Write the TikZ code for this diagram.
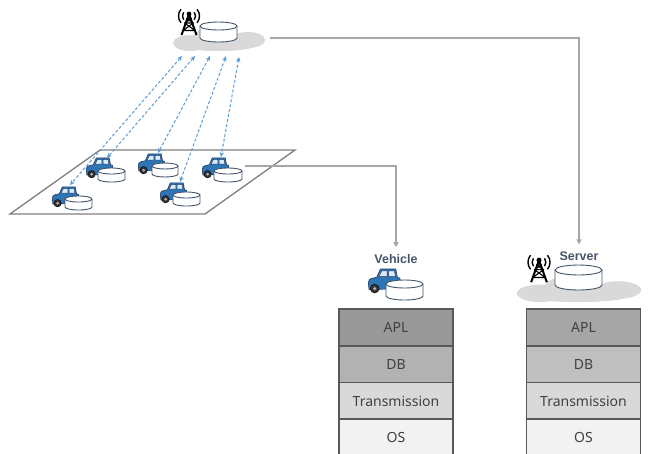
\documentclass[tikz,border=0pt]{standalone}
\usepackage{fontspec}
\setmainfont{Noto Sans}
\newfontfamily\tagfont{Liberation Sans}
\usetikzlibrary{arrows.meta}

\definecolor{carblue}{HTML}{2E75B6}
\definecolor{carline}{HTML}{1F3864}
\definecolor{winblue}{HTML}{DDEBF7}
\definecolor{dbline}{HTML}{44546A}
\definecolor{cloudgray}{HTML}{D9D9D9}
\definecolor{linkgray}{HTML}{A6A6A6}
\definecolor{planegray}{HTML}{7F7F7F}
\definecolor{dashblue}{HTML}{5B9BD5}
\definecolor{labelslate}{HTML}{44546A}
\definecolor{txtgray}{HTML}{404040}
\definecolor{framegray}{HTML}{595959}

\tikzset{
  % small car seen from the side, front to the left (y grows downwards)
  pics/car/.style={code={
    \draw[carline, fill=carblue, line width=0.6pt, line join=round]
      (1,21) -- (0.3,14) .. controls (0.5,11) and (2,10.5) .. (4,10) -- (8.5,9)
      -- (12,1) -- (27,1) -- (28.5,9) -- (31,10) -- (31.5,20) -- cycle;
    \draw[carline, fill=winblue, line width=0.4pt]
      (10.5,8.3) -- (13.4,2.8) -- (18.5,2.8) -- (18.5,8.3) -- cycle;
    \draw[carline, fill=winblue, line width=0.4pt]
      (20,2.8) -- (25.6,2.8) -- (26.6,8.3) -- (20,8.3) -- cycle;
    \draw[black, fill=black!80, line width=0.4pt] (6.5,20) circle (4.3);
    \fill[gray!60] (6.5,20) circle (1.7);
  }},
  % database cylinder: x radius, y radius, body height; origin = centre of top face
  pics/dbcyl/.style n args={3}{code={
    \fill[white] (0,#3) ellipse [x radius=#1, y radius=#2];
    \fill[white] (-#1,0) rectangle (#1,#3);
    \draw[dbline, line width=0.9pt] (-#1,0) -- (-#1,#3)
      arc[start angle=180, end angle=0, x radius=#1, y radius=#2] -- (#1,0);
    \draw[dbline, fill=white, line width=0.9pt] (0,0) ellipse [x radius=#1, y radius=#2];
  }},
  % flat cloud, origin at its centre
  pics/cloud/.style={code={
    \fill[cloudgray] (-29,3) ellipse [x radius=17, y radius=8];
    \fill[cloudgray] (-4,-2) ellipse [x radius=22, y radius=11];
    \fill[cloudgray] (29,0) ellipse [x radius=17, y radius=8];
    \fill[cloudgray] (-1,6) ellipse [x radius=36, y radius=5];
  }},
  % radio mast with waves, origin at the tip
  pics/mast/.style={code={
    \draw[black, line width=2pt, line join=round] (-7.5,24) -- (0,3) -- (7.5,24);
    \draw[black, line width=1.1pt] (-6,19.5) -- (4.5,12) (6,19.5) -- (-4.5,12)
      (-4.5,12) -- (4.5,12) (-2.8,7.5) -- (2.8,7.5) (-2.8,7.5) -- (4.5,12)
      (2.8,7.5) -- (-4.5,12) (-6,19.5) -- (6,19.5);
    \fill[black] (0,3) circle (2.4);
    \draw[black, line width=1.4pt] (0,5) ++(145:6.5) arc[start angle=145, end angle=215, radius=6.5];
    \draw[black, line width=1.4pt] (0,5) ++(140:10.5) arc[start angle=140, end angle=220, radius=10.5];
    \draw[black, line width=1.4pt] (0,5) ++(35:6.5) arc[start angle=35, end angle=-35, radius=6.5];
    \draw[black, line width=1.4pt] (0,5) ++(40:10.5) arc[start angle=40, end angle=-40, radius=10.5];
  }},
  layer/.style={draw=framegray, line width=1.3pt, minimum width=114pt,
    minimum height=37pt, inner sep=0pt, text=txtgray,
    font=\fontsize{14}{16}\selectfont},
  tag/.style={text=labelslate, inner sep=0pt,
    font=\tagfont\bfseries\fontsize{12.5}{14}\selectfont},
  link/.style={linkgray, line width=1.3pt,
    -{Triangle[length=5pt, width=5pt]}},
  radio/.style={dashblue, line width=1pt, dash pattern=on 3pt off 2pt,
    {Stealth[length=5pt, width=4.5pt]}-{Stealth[length=5pt, width=4.5pt]}},
}

\begin{document}
\begin{tikzpicture}[x=1pt, y=-1pt]
  \useasboundingbox (0,0) rectangle (658,453);
  \clip (0,0) rectangle (658,453);

  % ---- base station in the cloud ----
  \pic at (219,40) {cloud};
  \pic at (189,11) {mast};
  \pic at (218.5,26) {dbcyl={18.5}{4}{12}};
  \coordinate (cloudA-e) at (270,38);

  % ---- road plane with vehicles ----
  \draw[planegray, line width=1.3pt, line join=miter]
    (10,214) -- (205,214) -- (295,150) -- (100,150) -- cycle;

  \pic[scale=0.86] at (86,157) {car};
  \pic at (111.5,171) {dbcyl={13.5}{3}{8}};
  \pic[scale=0.86] at (138,153) {car};
  \pic at (165,166) {dbcyl={13}{3}{8}};
  \pic[scale=0.86] at (202,157) {car};
  \pic at (228,171) {dbcyl={14}{3}{8}};
  \pic[scale=0.86] at (52,186) {car};
  \pic at (78.5,199) {dbcyl={13.5}{3}{8}};
  \pic[scale=0.86] at (160,182) {car};
  \pic at (186.5,195) {dbcyl={13.5}{3}{8}};

  % radio links between vehicles and base station
  \coordinate (up1) at (182,56);
  \coordinate (up2) at (195,56);
  \coordinate (up3) at (210,56);
  \coordinate (up4) at (226,56);
  \coordinate (up5) at (239,57);
  \coordinate (car1-t) at (70,185);
  \coordinate (car2-t) at (107,158);
  \coordinate (car3-t) at (158,153);
  \coordinate (car5-t) at (180,182);
  \coordinate (car4-t) at (221,157);
  \draw[radio] (up1) -- (car1-t);
  \draw[radio] (up2) -- (car2-t);
  \draw[radio] (up3) -- (car3-t);
  \draw[radio] (up4) -- (car5-t);
  \draw[radio] (up5) -- (car4-t);
  \coordinate (car4-e) at (245,166);

  % ---- vehicle side ----
  \node[tag] (vlbl) at (396,259) {Vehicle};
  \pic[scale=1.03] at (368,268) {car};
  \pic at (404.5,284) {dbcyl={18.5}{4}{12}};

  \node[layer, fill=black!40] (vapl) at (396,327.5) {APL};
  \node[layer, fill=black!30] (vdb)  at (396,364.5) {DB};
  \node[layer, fill=black!15] (vtr)  at (396,401)   {Transmission};
  \node[layer, fill=black!5]  (vos)  at (396,437.5) {OS};

  % ---- server side ----
  \node[tag] (slbl) at (579,256) {Server};
  \pic[xscale=1.35, yscale=1.1] at (579,290) {cloud};
  \pic[scale=1.05] at (539,257) {mast};
  \pic at (578.5,270) {dbcyl={23.5}{5}{15}};

  \node[layer, fill=black!35] (sapl) at (583.5,327.5) {APL};
  \node[layer, fill=black!25] (sdb)  at (583.5,364.5) {DB};
  \node[layer, fill=black!15] (str)  at (583.5,401)   {Transmission};
  \node[layer, fill=black!5]  (sos)  at (583.5,437.5) {OS};

  % ---- data flows ----
  \draw[link, shorten >=7pt] (cloudA-e) -| (slbl.north);
  \draw[link, shorten >=7pt] (car4-e) -| (vlbl.north);
\end{tikzpicture}
\end{document}
